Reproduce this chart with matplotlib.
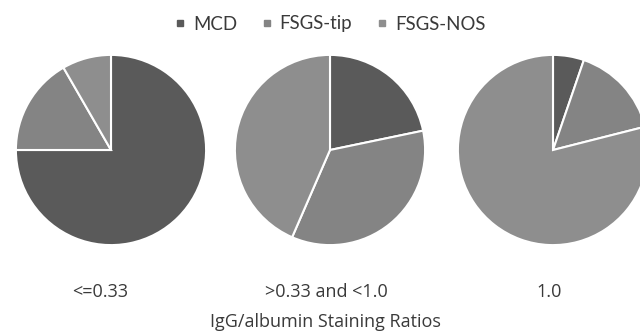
import matplotlib
matplotlib.use("Agg")
import matplotlib.pyplot as plt
from matplotlib.lines import Line2D

plt.rcParams['font.family'] = ['Lato', 'DejaVu Sans']

categories = ["MCD", "FSGS-tip", "FSGS-NOS"]
groups = ["<=0.33", ">0.33 and <1.0", "1.0"]
mcd = [9, 5, 1]
fsgs_tip = [2, 8, 3]
fsgs_nos = [1, 10, 15]
xlabel = "IgG/albumin Staining Ratios"

colors = ["#5a5a5a", "#848484", "#8e8e8e"]
text_color = "#3a3a3a"

W, H = 640, 332
fig = plt.figure(figsize=(W / 100, H / 100), dpi=100)
fig.patch.set_facecolor("white")

centers_x = [111, 330, 553]
cy = 150
r = 97
label_x = [100, 326, 549]

for i in range(3):
    cx = centers_x[i]
    ax = fig.add_axes([(cx - r) / W, (H - cy - r) / H, 2 * r / W, 2 * r / H])
    vals = [mcd[i], fsgs_tip[i], fsgs_nos[i]]
    ax.pie(vals, colors=colors, startangle=90, counterclock=False,
           wedgeprops=dict(edgecolor="white", linewidth=1.5))
    ax.set_xlim(-1.02, 1.02)
    ax.set_ylim(-1.02, 1.02)
    ax.set_aspect("equal")
    ax.axis("off")
    fig.text(label_x[i] / W, 1 - 292 / H, groups[i], ha="center", va="center",
             fontsize=13, color=text_color, family=['Open Sans', 'DejaVu Sans'])

fig.text(325 / W, 1 - 322 / H, xlabel, ha="center", va="center",
         fontsize=13, color=text_color, family=['Open Sans', 'DejaVu Sans'])

handles = [Line2D([0], [0], marker="s", linestyle="none", markersize=4.5,
                  markerfacecolor=c, markeredgecolor=c) for c in colors]
fig.legend(handles, categories, loc="center", bbox_to_anchor=(328 / W, 1 - 24 / H),
           ncol=3, frameon=False, fontsize=13.4, handletextpad=0.2,
           columnspacing=1.1, handlelength=1.0, labelcolor=text_color)

fig.savefig("out.png", dpi=100, facecolor="white")
